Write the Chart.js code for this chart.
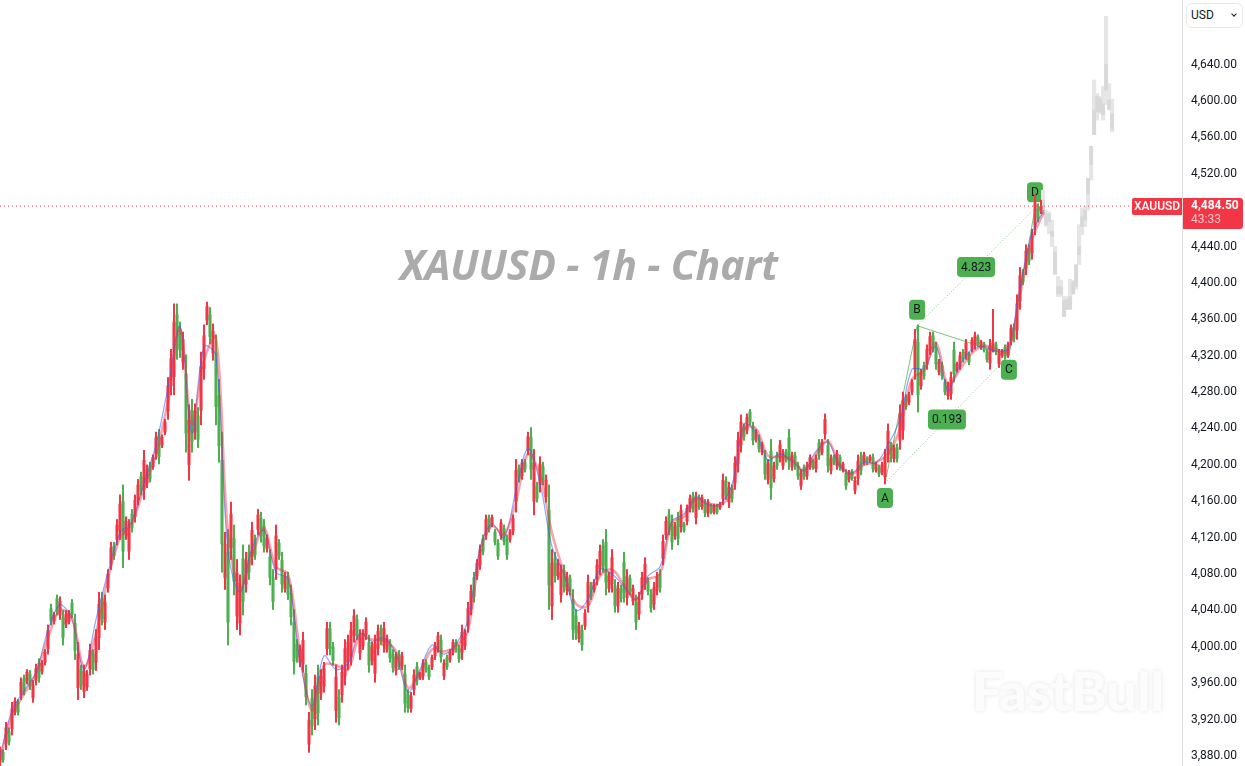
<!DOCTYPE html>
<html>
<head>
<meta charset="utf-8">
<title>XAUUSD - 1h - Chart</title>
<style>
  body { margin: 0; background: #fff; overflow: hidden; }
  #wrap { position: relative; width: 1245px; height: 766px; }
  #chart { position: absolute; left: 0; top: 0; }
  #title { position: absolute; left: 400px; top: 236px; font: italic bold 41px "Noto Sans", sans-serif; letter-spacing: -0.2px; color: #ababab; white-space: nowrap; }
  #mark { position: absolute; left: 972px; top: 658px; font: 900 54px Lato, sans-serif; color: #fcfcfc; text-shadow: 0 0 5px #e4e4e4; white-space: nowrap; }
  #unit { position: absolute; left: 1186px; top: 3px; width: 57px; height: 25px; box-sizing: border-box; border: 1px solid #e6e8ee; border-radius: 6px; background: #fff; font: 12px Roboto, sans-serif; color: #131722; line-height: 23px; padding-left: 4px; }
  #unit i { position: absolute; right: 6px; top: 8px; width: 3px; height: 3px; border-right: 1.2px solid #131722; border-bottom: 1.2px solid #131722; transform: rotate(45deg); }
</style>
</head>
<body>
<div id="wrap">
  <div id="mark">FastBull</div>
  <canvas id="chart" width="1245" height="766"></canvas>
  <div id="title">XAUUSD - 1h - Chart</div>
  <div id="unit">USD<i></i></div>
</div>
<script src="https://cdn.jsdelivr.net/npm/chart.js@4"></script>
<script>
// one hourly candle per slot
const highs = [
  3890,3887,3917,3911,3939,3944,3942,3966,3969,3975,
  3974,3963,3981,3987,3985,3997,4024,4047,4038,4057,
  4055,4040,4040,4040,4052,4036,4005,3980,3980,3974,
  4003,3997,4019,4060,4060,4057,4085,4115,4115,4140,
  4167,4178,4143,4140,4151,4167,4184,4192,4216,4200,
  4203,4211,4236,4239,4233,4250,4296,4327,4377,4377,
  4357,4346,4321,4266,4272,4267,4263,4324,4354,4379,
  4373,4355,4343,4294,4236,4126,4129,4159,4134,4096,
  4079,4112,4104,4112,4137,4123,4151,4148,4140,4123,
  4107,4085,4134,4118,4104,4082,4082,4068,4041,4008,
  4002,4016,3980,3928,3953,3969,3980,3975,3983,4027,
  4027,4005,3980,3953,3980,4008,4013,4027,4041,4035,
  4019,4019,4032,4013,4005,4013,4024,4024,4027,4013,
  4008,3997,3994,3996,3994,3980,3953,3950,3975,3983,
  3972,3986,3986,3980,3991,4005,4016,4013,3986,3991,
  3997,4008,4008,4002,4024,4019,4049,4068,4082,4096,
  4112,4123,4145,4145,4145,4129,4118,4140,4134,4123,
  4129,4145,4206,4200,4206,4206,4236,4241,4217,4181,
  4209,4203,4189,4178,4107,4104,4096,4090,4090,4082,
  4079,4063,4041,4027,4024,4041,4079,4071,4074,4096,
  4112,4118,4129,4082,4107,4074,4071,4068,4104,4085,
  4079,4068,4057,4060,4082,4098,4076,4063,4071,4082,
  4085,4123,4143,4151,4145,4137,4148,4156,4137,4156,
  4167,4170,4170,4167,4167,4162,4162,4157,4157,4157,
  4159,4190,4187,4181,4178,4209,4236,4255,4245,4256,
  4261,4247,4239,4233,4225,4216,4206,4228,4203,4214,
  4227,4217,4217,4239,4214,4214,4203,4195,4200,4203,
  4211,4206,4211,4228,4228,4256,4228,4211,4211,4216,
  4211,4203,4195,4194,4195,4187,4211,4214,4214,4209,
  4211,4212,4203,4200,4203,4217,4245,4225,4222,4223,
  4266,4280,4277,4280,4294,4349,4354,4305,4313,4332,
  4346,4346,4335,4316,4313,4294,4291,4302,4335,4313,
  4324,4327,4338,4324,4340,4346,4343,4337,4335,4327,
  4338,4371,4335,4327,4327,4332,4335,4354,4355,4387,
  4417,4415,4442,4442,4459,4497,4487,4491
];
const lows = [
  3868,3873,3887,3892,3903,3925,3925,3942,3947,3959,
  3953,3939,3958,3961,3970,3980,3992,4024,4025,4035,
  4030,4002,4021,4025,4032,3986,3942,3953,3944,3952,
  3969,3970,3974,3997,4024,4019,4060,4085,4096,4112,
  4118,4087,4118,4096,4126,4137,4156,4167,4162,4175,
  4181,4195,4206,4201,4219,4233,4250,4277,4277,4316,
  4318,4305,4214,4183,4214,4228,4219,4244,4294,4354,
  4333,4315,4244,4203,4082,4063,4002,4096,4057,4019,
  4013,4035,4060,4074,4090,4096,4123,4115,4104,4104,
  4068,4041,4074,4096,4060,4060,4052,4024,3970,3983,
  3978,3972,3936,3884,3903,3909,3914,3942,3950,3991,
  3991,3980,3917,3914,3939,3958,3975,3980,4005,4008,
  3986,3997,4008,3972,3980,3961,3991,4002,3994,3994,
  3983,3972,3969,3975,3975,3928,3928,3928,3947,3958,
  3964,3964,3972,3964,3975,3986,3994,3983,3964,3975,
  3983,3991,3994,3983,3986,3997,4016,4035,4049,4074,
  4085,4101,4118,4126,4132,4112,4096,4118,4112,4096,
  4115,4123,4148,4181,4184,4192,4211,4184,4145,4159,
  4170,4178,4159,4041,4030,4071,4074,4049,4060,4057,
  4057,4008,4008,4005,3996,4019,4038,4052,4060,4068,
  4079,4082,4057,4060,4060,4038,4038,4049,4049,4046,
  4057,4046,4019,4030,4052,4063,4057,4038,4041,4057,
  4060,4090,4118,4123,4107,4118,4112,4126,4126,4134,
  4148,4148,4135,4151,4151,4143,4143,4146,4146,4146,
  4151,4156,4162,4153,4159,4173,4192,4214,4227,4234,
  4244,4222,4225,4214,4211,4184,4179,4162,4181,4195,
  4203,4195,4203,4195,4194,4195,4184,4173,4184,4184,
  4195,4195,4192,4206,4211,4228,4192,4190,4200,4195,
  4194,4192,4173,4181,4183,4168,4178,4189,4200,4200,
  4203,4192,4192,4187,4189,4179,4203,4203,4203,4203,
  4217,4228,4261,4266,4277,4294,4258,4283,4294,4305,
  4321,4324,4305,4299,4294,4277,4272,4272,4291,4302,
  4305,4313,4316,4310,4324,4327,4330,4327,4324,4313,
  4305,4324,4321,4307,4318,4316,4318,4332,4335,4338,
  4371,4398,4409,4420,4426,4453,4467,4476
];
const opens = [
  3873,3884,3893,3907,3910,3929,3939,3947,3965,3962,
  3970,3944,3963,3982,3973,3983,3998,4042,4028,4053,
  4035,4032,4025,4028,4048,4026,3955,3975,3951,3956,
  3976,3992,3983,4010,4053,4027,4065,4091,4111,4118,
  4128,4160,4123,4105,4146,4143,4162,4187,4173,4180,
  4199,4198,4212,4231,4222,4236,4259,4287,4297,4365,
  4349,4313,4300,4200,4260,4236,4254,4260,4306,4359,
  4365,4323,4323,4276,4205,4076,4104,4109,4119,4034,
  4026,4097,4069,4104,4099,4118,4129,4141,4133,4108,
  4099,4076,4086,4114,4095,4064,4076,4059,4027,4003,
  3983,3981,3971,3893,3943,3921,3967,3949,3957,3998,
  4020,4000,3930,3945,3947,3968,3983,3989,4012,4030,
  3993,4001,4013,4005,3985,3971,3998,4020,4001,3998,
  4003,3992,3974,3992,3979,3970,3948,3932,3953,3978,
  3966,3968,3983,3977,3978,3990,3998,4007,3968,3988,
  3986,3994,4005,3998,3994,4001,4023,4042,4076,4078,
  4090,4119,4123,4141,4135,4126,4114,4122,4130,4118,
  4118,4127,4160,4196,4188,4203,4216,4230,4160,4177,
  4178,4198,4165,4150,4045,4097,4078,4057,4084,4062,
  4075,4052,4034,4009,4018,4023,4046,4067,4063,4074,
  4086,4111,4115,4064,4069,4067,4045,4064,4093,4054,
  4075,4050,4049,4036,4058,4070,4072,4058,4047,4062,
  4080,4097,4123,4145,4137,4122,4141,4132,4135,4138,
  4152,4166,4142,4164,4154,4158,4147,4155,4148,4155,
  4153,4163,4182,4159,4174,4180,4201,4222,4241,4238,
  4258,4242,4228,4229,4214,4210,4184,4215,4185,4210,
  4208,4199,4214,4230,4198,4210,4199,4177,4197,4188,
  4198,4204,4196,4224,4214,4234,4221,4194,4209,4199,
  4208,4194,4191,4184,4193,4172,4185,4209,4203,4207,
  4205,4208,4194,4197,4192,4187,4211,4221,4207,4219,
  4227,4238,4274,4269,4280,4305,4335,4287,4309,4310,
  4326,4342,4329,4302,4309,4291,4276,4278,4326,4304,
  4309,4324,4320,4321,4327,4331,4340,4329,4333,4324,
  4312,4325,4332,4311,4320,4329,4321,4336,4351,4348,
  4380,4412,4416,4438,4433,4462,4483,4479
];
const closes = [
  3885,3876,3911,3896,3932,3940,3928,3961,3951,3972,
  3957,3958,3976,3966,3982,3994,4018,4029,4035,4039,
  4050,4010,4036,4037,4036,3996,3992,3958,3973,3970,
  3996,3975,4010,4047,4031,4049,4080,4109,4100,4134,
  4157,4105,4138,4131,4131,4161,4178,4172,4205,4195,
  4185,4208,4230,4209,4230,4247,4287,4317,4357,4328,
  4326,4338,4235,4249,4226,4259,4228,4308,4342,4374,
  4341,4347,4264,4221,4113,4113,4027,4146,4072,4081,
  4066,4050,4095,4082,4128,4101,4145,4122,4111,4119,
  4076,4050,4122,4100,4069,4078,4058,4033,3984,3988,
  3997,4007,3945,3919,3913,3957,3927,3968,3976,4020,
  3998,3985,3967,3922,3972,3998,4005,4018,4034,4013,
  4012,4015,4027,3980,4000,4003,4017,4006,4020,4009,
  3988,3977,3989,3979,3990,3938,3933,3946,3969,3963,
  3970,3982,3975,3967,3988,4001,4012,3989,3982,3978,
  3994,4005,3997,3987,4016,4015,4042,4061,4055,4092,
  4107,4105,4140,4130,4142,4115,4100,4136,4116,4101,
  4126,4141,4194,4185,4202,4195,4231,4195,4202,4163,
  4201,4183,4183,4068,4092,4078,4092,4082,4066,4077,
  4061,4019,4015,4023,4002,4037,4071,4056,4071,4090,
  4105,4089,4071,4078,4098,4045,4064,4053,4060,4077,
  4061,4064,4027,4054,4076,4091,4061,4043,4065,4077,
  4065,4116,4138,4129,4115,4133,4119,4150,4128,4152,
  4163,4152,4163,4154,4164,4147,4158,4148,4155,4148,
  4157,4183,4167,4175,4163,4202,4227,4247,4231,4252,
  4247,4227,4236,4218,4222,4190,4201,4175,4199,4199,
  4222,4213,4206,4204,4210,4199,4188,4191,4187,4199,
  4208,4197,4207,4210,4225,4250,4199,4207,4202,4212,
  4197,4201,4177,4191,4185,4183,4204,4194,4211,4202,
  4209,4196,4201,4190,4200,4209,4237,4207,4218,4207,
  4256,4270,4264,4277,4291,4338,4277,4301,4298,4327,
  4341,4328,4311,4313,4298,4280,4287,4296,4300,4311,
  4320,4316,4334,4313,4337,4342,4333,4335,4326,4316,
  4331,4334,4324,4323,4325,4319,4332,4350,4339,4377,
  4408,4401,4435,4424,4452,4488,4471,4484.5
];

// grey forecast candles after the last real one
const ghostHighs = [4502,4480,4478,4469,4440,4407,4403,4385,4385,4404,4403,4420,4464,4482,4484,4515,4550,4623,4608,4605,4616,4693,4619,4602];
const ghostLows = [4475,4462,4454,4440,4409,4385,4385,4363,4371,4371,4388,4393,4420,4453,4462,4480,4513,4563,4579,4586,4579,4596,4590,4566];
const ghostOpens = [4491,4476,4476,4457,4434,4396,4396,4381,4382,4385,4401,4420,4440,4473,4480,4515,4550,4590,4605,4603,4597,4640,4601,4586];
const ghostCloses = [4476,4464,4467,4451,4410,4388,4388,4363,4371,4371,4388,4396,4431,4462,4469,4498,4530,4563,4588,4588,4585,4612,4591,4569];

// moving averages, one value every 4 candles
const maFast = [
  3880,3930,3952,3972,4018,4046,4030,3975,4030,4082,4125,4138,4180,4222,4285,4352,4235,4330,4320,4105,
  4060,4108,4128,4082,4075,3985,3935,3990,3975,3982,4015,4006,4010,3992,3950,3975,4002,3992,4003,4030,
  4108,4135,4120,4172,4218,4180,4110,4080,4040,4052,4085,4080,4066,4052,4078,4088,4138,4146,4165,4156,
  4157,4178,4245,4235,4205,4212,4204,4194,4215,4225,4198,4191,4203,4202,4222,4250,4305,4306,4330,4282,
  4310,4327,4330,4325,4328,4395,4455,4480
];
const maSlow = [
  3875,3925,3948,3970,4010,4040,4032,3978,4015,4075,4120,4136,4175,4212,4270,4350,4245,4315,4340,4125,
  4065,4100,4130,4088,4080,3995,3930,3980,3980,3975,4013,4008,4007,3995,3955,3972,3997,3995,4001,4018,
  4103,4133,4123,4160,4212,4189,4125,4082,4047,4045,4078,4085,4068,4052,4074,4080,4137,4143,4163,4158,
  4156,4170,4240,4240,4210,4209,4206,4193,4212,4226,4200,4190,4200,4203,4212,4240,4294,4304,4334,4288,
  4305,4323,4331,4327,4325,4387,4448,4478
];

// ABCD pattern pivots
const patternLabels = ["A", "B", "C", "D"];
const patternSlots = [295, 305.7, 336.3, 345];
const patternPrices = [4180, 4353, 4320, 4482];
const ratioLabels = ["0.193", "4.823"];

const lastPrice = 4484.5;
const countdown = "43:33";
const symbol = "XAUUSD";
const tickValues = [3880, 3920, 3960, 4000, 4040, 4080, 4120, 4160, 4200, 4240, 4280, 4320, 4360, 4400, 4440, 4520, 4560, 4600, 4640];

const RED = "#f23645";
const GREEN = "#4caf50";
const slots = 394;
const ghostStart = 347.7;

function candleColor(o, c) {
  return c >= o ? RED : GREEN;
}

const wickData = highs.map((h, i) => ({ x: i, y: [lows[i], h] }));
const bodyData = opens.map((o, i) => ({ x: i, y: [o, closes[i]] }));
const candleColors = opens.map((o, i) => candleColor(o, closes[i]));
const ghostWicks = ghostHighs.map((h, i) => ({ x: ghostStart + i, y: [ghostLows[i], h] }));
const ghostBodies = ghostOpens.map((o, i) => ({ x: ghostStart + i, y: [o, ghostCloses[i]] }));
const pivots = patternSlots.map((s, i) => ({ x: s, y: patternPrices[i] }));

function roundBox(ctx, x, y, w, h, r, color) {
  ctx.fillStyle = color;
  ctx.beginPath();
  ctx.roundRect(x, y, w, h, r);
  ctx.fill();
}

// green labels go under the candles, as the D one does in the picture
const badges = {
  id: "badges",
  beforeDatasetsDraw(chart) {
    const { x, y } = chart.scales;
    const ctx = chart.ctx;
    ctx.save();
    ctx.font = "12px Roboto, sans-serif";
    ctx.textAlign = "center";
    ctx.textBaseline = "middle";
    const shift = [15, -16, 14, -16];
    patternLabels.forEach((t, i) => {
      const px = x.getPixelForValue(patternSlots[i]);
      const py = y.getPixelForValue(patternPrices[i]) + shift[i];
      roundBox(ctx, px - 8, py - 10, 16, 20, 4, GREEN);
      ctx.fillStyle = "#131722";
      ctx.fillText(t, px, py + 0.5);
    });
    ratioLabels.forEach((t, i) => {
      const a = pivots[i], b = pivots[i + 2];
      const px = x.getPixelForValue((a.x + b.x) / 2);
      const py = y.getPixelForValue((a.y + b.y) / 2);
      roundBox(ctx, px - 19, py - 10, 38, 20, 4, GREEN);
      ctx.fillStyle = "#131722";
      ctx.fillText(t, px, py + 0.5);
    });
    ctx.restore();
  },
  afterDraw(chart) {
    const { y } = chart.scales;
    const ctx = chart.ctx;
    const py = Math.round(y.getPixelForValue(lastPrice));
    ctx.save();
    ctx.textBaseline = "middle";
    roundBox(ctx, 1132, py - 8, 50, 17, [2, 0, 0, 2], RED);
    roundBox(ctx, 1183, py - 8, 60, 31, [0, 3, 3, 0], RED);
    ctx.textAlign = "center";
    ctx.fillStyle = "#fff";
    ctx.font = "500 12px Roboto, sans-serif";
    ctx.fillText(symbol, 1157, py + 1);
    ctx.textAlign = "left";
    ctx.font = "bold 12px Roboto, sans-serif";
    ctx.fillText(lastPrice.toLocaleString("en-US", { minimumFractionDigits: 2 }), 1191, py);
    ctx.fillStyle = "#ffc3c8";
    ctx.font = "12px Roboto, sans-serif";
    ctx.fillText(countdown, 1191, py + 14);
    ctx.restore();
  }
};

new Chart(document.getElementById("chart"), {
  type: "bar",
  plugins: [badges],
  data: {
    datasets: [
      { type: "line", data: maSlow.map((v, i) => ({ x: i * 4, y: v })), borderColor: "rgba(242,54,69,.45)", borderWidth: 2.6, pointRadius: 0, tension: 0.35 },
      { type: "line", data: maFast.map((v, i) => ({ x: i * 4, y: v })), borderColor: "rgba(41,98,255,.55)", borderWidth: 1.2, pointRadius: 0, tension: 0.35 },
      { type: "bar", data: bodyData, backgroundColor: candleColors, barThickness: 2.4, grouped: false },
      { type: "bar", data: wickData, backgroundColor: candleColors, barThickness: 1.4, grouped: false },
      { type: "line", data: pivots, borderColor: "rgba(76,175,80,.75)", borderWidth: 1, pointRadius: 0 },
      { type: "line", data: [pivots[0], pivots[2]], borderColor: "rgba(76,175,80,.65)", borderWidth: 1, borderDash: [1, 2], pointRadius: 0 },
      { type: "line", data: [pivots[1], pivots[3]], borderColor: "rgba(76,175,80,.65)", borderWidth: 1, borderDash: [1, 2], pointRadius: 0 },
      { type: "line", data: [{ x: 0, y: lastPrice }, { x: slots, y: lastPrice }], borderColor: RED, borderWidth: 1, borderDash: [1, 3], pointRadius: 0 },
      { type: "bar", data: ghostBodies, backgroundColor: "#d8d8d8", barThickness: 3, grouped: false },
      { type: "bar", data: ghostWicks, backgroundColor: "#e6e6e6", barThickness: 3.5, grouped: false }
    ]
  },
  options: {
    responsive: false,
    animation: false,
    layout: { padding: 0 },
    plugins: { legend: { display: false }, tooltip: { enabled: false } },
    scales: {
      x: { type: "linear", min: 0, max: slots, offset: false, display: false },
      y: {
        position: "right",
        min: 3869,
        max: 4711,
        grid: { display: false },
        border: { color: "#dcdcdc" },
        afterBuildTicks(axis) {
          axis.ticks = tickValues.map((v) => ({ value: v }));
        },
        afterFit(axis) {
          axis.width = 63;
          axis.paddingTop = 0;
          axis.paddingBottom = 0;
        },
        ticks: {
          color: "#131722",
          padding: 1,
          autoSkip: false,
          font: { family: "Roboto, sans-serif", size: 12 },
          callback: (v) => v.toLocaleString("en-US", { minimumFractionDigits: 2 })
        }
      }
    }
  }
});
</script>
</body>
</html>
